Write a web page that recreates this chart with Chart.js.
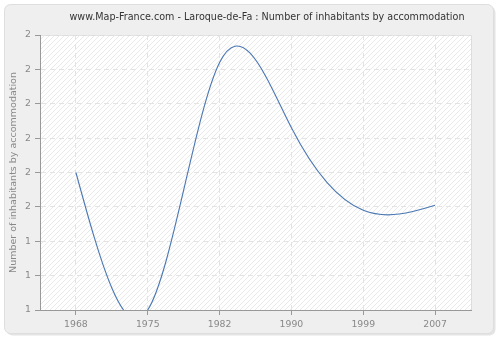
<!DOCTYPE html>
<html>
<head>
<meta charset="utf-8">
<script src="https://cdn.jsdelivr.net/npm/chart.js@4.4.1/dist/chart.umd.min.js"></script>
<style>
  html, body { margin: 0; padding: 0; background: #ffffff; }
  #wrap { width: 500px; height: 340px; position: relative; }
</style>
</head>
<body>
<div id="wrap"><canvas id="c"></canvas></div>
<script>
const chartTitle = 'www.Map-France.com - Laroque-de-Fa : Number of inhabitants by accommodation';
const yAxisTitle = 'Number of inhabitants by accommodation';
const years = ['1968', '1975', '1982', '1990', '1999', '2007'];
const inhabitantsPerAccommodation = [1.60, 1.20, 1.92, 1.73, 1.49, 1.505];
const yTickValues = [1.2, 1.3, 1.4, 1.5, 1.6, 1.7, 1.8, 1.9, 2.0];
const yTickLabels = ['1', '1', '1', '2', '2', '2', '2', '2', '2'];

const FONT = '"DejaVu Sans", Verdana, sans-serif';
const LINE_COLOR = '#4a77b2';

function makeHatch() {
  const p = document.createElement('canvas');
  p.width = 5; p.height = 5;
  const g = p.getContext('2d');
  g.fillStyle = '#ffffff';
  g.fillRect(0, 0, 5, 5);
  g.strokeStyle = '#e9e9e9';
  g.lineWidth = 1;
  g.beginPath();
  g.moveTo(-1, 6); g.lineTo(6, -1);
  g.moveTo(-1, 1); g.lineTo(1, -1);
  g.moveTo(4, 6); g.lineTo(6, 4);
  g.stroke();
  return p;
}

const backgroundPlugin = {
  id: 'panelBg',
  beforeDraw(chart) {
    const ctx = chart.ctx;
    const w = chart.width, h = chart.height;
    ctx.save();
    ctx.fillStyle = '#ffffff';
    ctx.fillRect(0, 0, w, h);
    ctx.fillStyle = '#e4e4e4';
    ctx.beginPath();
    ctx.roundRect(6.5, 6.5, w - 11, h - 11, 6);
    ctx.fill();
    ctx.fillStyle = '#efefef';
    ctx.strokeStyle = '#dedede';
    ctx.lineWidth = 1;
    ctx.beginPath();
    ctx.roundRect(4.5, 4.5, w - 11, h - 11, 6);
    ctx.fill();
    ctx.stroke();
    const a = chart.chartArea;
    ctx.fillStyle = ctx.createPattern(makeHatch(), 'repeat');
    ctx.fillRect(a.left, a.top, a.right - a.left, a.bottom - a.top);
    ctx.strokeStyle = '#dddddd';
    ctx.beginPath();
    ctx.moveTo(a.left, a.top + 0.5);
    ctx.lineTo(a.right + 0.5, a.top + 0.5);
    ctx.lineTo(a.right + 0.5, a.bottom);
    ctx.stroke();
    ctx.fillStyle = '#333333';
    ctx.font = '9.6px ' + FONT;
    ctx.textAlign = 'center';
    ctx.textBaseline = 'middle';
    ctx.fillText(chartTitle, 267, 17);
    ctx.restore();
  }
};

// Natural cubic spline through the dataset values (x = category index),
// drawn through the chart's own x / y scales.
const splinePlugin = {
  id: 'naturalSpline',
  afterDatasetsDraw(chart) {
    const xs = chart.scales.x, ys = chart.scales.y;
    const a = chart.chartArea;
    chart.data.datasets.forEach((ds) => {
      const v = ds.data;
      const n = v.length;
      if (n < 2) return;
      // second derivatives (natural: M0 = Mn-1 = 0), h = 1
      const M = new Array(n).fill(0);
      if (n > 2) {
        const m = n - 2;
        const c = new Array(m), d = new Array(m);
        for (let i = 0; i < m; i++) {
          const k = i + 1;
          const rhs = 6 * (v[k + 1] - 2 * v[k] + v[k - 1]);
          if (i === 0) { c[i] = 1 / 4; d[i] = rhs / 4; }
          else {
            const den = 4 - c[i - 1];
            c[i] = 1 / den;
            d[i] = (rhs - d[i - 1]) / den;
          }
        }
        M[m] = d[m - 1];
        for (let i = m - 1; i >= 1; i--) M[i] = d[i - 1] - c[i - 1] * M[i + 1];
      }
      const ctx = chart.ctx;
      ctx.save();
      ctx.beginPath();
      ctx.rect(a.left, a.top, a.right - a.left, a.bottom - a.top);
      ctx.clip();
      ctx.strokeStyle = ds.borderColor;
      ctx.lineWidth = ds.splineWidth;
      ctx.lineJoin = 'round';
      ctx.beginPath();
      ctx.moveTo(xs.getPixelForValue(0), ys.getPixelForValue(v[0]));
      for (let i = 0; i < n - 1; i++) {
        const dy = v[i + 1] - v[i];
        const s0 = dy - (2 * M[i] + M[i + 1]) / 6;
        const s1 = dy + (M[i] + 2 * M[i + 1]) / 6;
        ctx.bezierCurveTo(
          xs.getPixelForValue(i + 1 / 3), ys.getPixelForValue(v[i] + s0 / 3),
          xs.getPixelForValue(i + 2 / 3), ys.getPixelForValue(v[i + 1] - s1 / 3),
          xs.getPixelForValue(i + 1), ys.getPixelForValue(v[i + 1])
        );
      }
      ctx.stroke();
      ctx.restore();
    });
  }
};

new Chart(document.getElementById('c'), {
  type: 'line',
  data: {
    labels: years,
    datasets: [{
      data: inhabitantsPerAccommodation,
      borderColor: LINE_COLOR,
      splineWidth: 1.1,
      showLine: false,
      pointRadius: 0,
      fill: false
    }]
  },
  options: {
    responsive: true,
    maintainAspectRatio: false,
    animation: false,
    events: [],
    layout: { padding: { top: 35, right: 29, left: 0, bottom: 0 } },
    plugins: {
      legend: { display: false },
      tooltip: { enabled: false },
      title: { display: false }
    },
    scales: {
      x: {
        type: 'category',
        offset: true,
        afterFit(scale) { scale.height = 30; },
        grid: {
          color: '#e3e3e3',
          lineWidth: 1,
          drawTicks: true,
          tickLength: 5,
          tickColor: '#999999',
          tickWidth: 1,
          tickBorderDash: []
        },
        border: { display: true, color: '#999999', width: 1, dash: [5, 4] },
        ticks: {
          color: '#888888',
          font: { family: FONT, size: 9.3 },
          padding: 4,
          maxRotation: 0,
          autoSkip: false
        }
      },
      y: {
        type: 'linear',
        min: 1.2,
        max: 2.0,
        afterFit(scale) { scale.width = 40; },
        afterBuildTicks(scale) {
          scale.ticks = yTickValues.map(v => ({ value: v }));
        },
        grid: {
          color: '#e3e3e3',
          lineWidth: 1,
          drawTicks: true,
          tickLength: 5,
          tickColor: '#999999',
          tickWidth: 1,
          tickBorderDash: []
        },
        border: { display: true, color: '#999999', width: 1, dash: [5, 4] },
        ticks: {
          color: '#888888',
          font: { family: FONT, size: 9.3 },
          padding: 4,
          callback: (v, i) => yTickLabels[i]
        },
        title: {
          display: true,
          text: yAxisTitle,
          color: '#888888',
          font: { family: FONT, size: 9.5 },
          padding: { top: 8, bottom: 0 }
        }
      }
    }
  },
  plugins: [backgroundPlugin, splinePlugin]
});
</script>
</body>
</html>
